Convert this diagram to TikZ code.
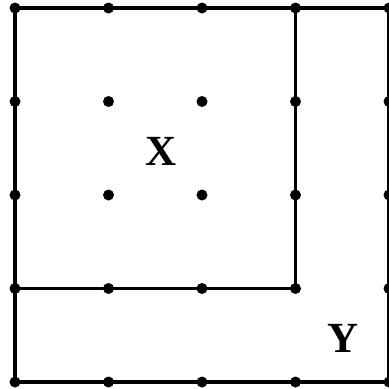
\documentclass[tikz,border=0pt]{standalone}
\usepackage{fontspec}
\setmainfont{Liberation Serif}
\begin{document}
\begin{tikzpicture}[x=1pt,y=-1pt,
  edge/.style={line width=3.6pt},
  pt/.style={circle,fill=black,inner sep=0pt,minimum size=11pt},
  lbl/.style={inner sep=0pt,font=\fontsize{43}{43}\selectfont\bfseries}]
\useasboundingbox (0,0) rectangle (389,389);
\foreach \i in {0,...,4}{
  \foreach \j in {0,...,4}{
    \coordinate (g\i\j) at ({15+93.5*\i},{8+93.5*\j});
  }
}
\draw[edge] (g00) rectangle (g44);
\draw[edge] (g30) -- (g33) -- (g03);
\foreach \i in {0,...,4}{
  \foreach \j in {0,...,4}{
    \node[pt] (d\i\j) at (g\i\j) {};
  }
}
\node[lbl] (X) at (161,151) {X};
\node[lbl] (Y) at (343,338) {Y};
\end{tikzpicture}
\end{document}
